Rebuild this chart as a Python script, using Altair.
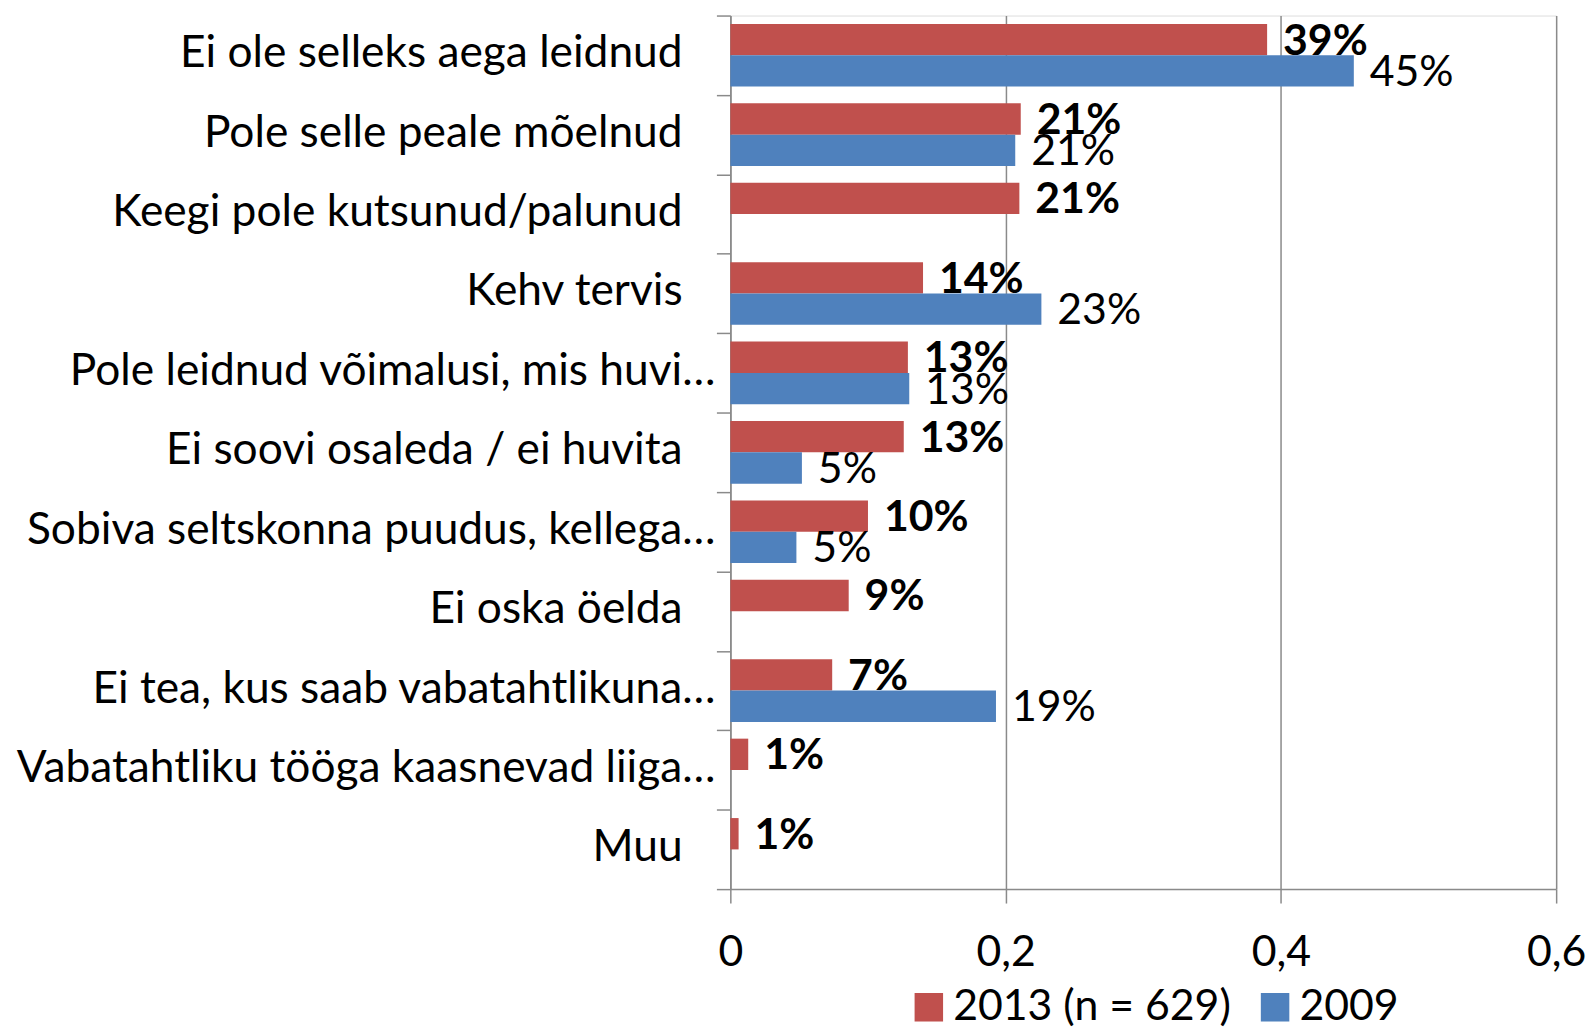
import altair as alt
import pandas as pd

categories = [
    "Ei ole selleks aega leidnud",
    "Pole selle peale mõelnud",
    "Keegi pole kutsunud/palunud",
    "Kehv tervis",
    "Pole leidnud võimalusi, mis huvi…",
    "Ei soovi osaleda / ei huvita",
    "Sobiva seltskonna puudus, kellega…",
    "Ei oska öelda",
    "Ei tea, kus saab vabatahtlikuna…",
    "Vabatahtliku tööga kaasnevad liiga…",
    "Muu",
]
values_2013 = [0.39, 0.211, 0.21, 0.14, 0.129, 0.126, 0.10, 0.086, 0.074, 0.013, 0.006]
values_2009 = [0.453, 0.207, None, 0.226, 0.13, 0.052, 0.048, None, 0.193, None, None]
series = ["2013 (n = 629)", "2009"]
colors = ["#C0504D", "#4F81BD"]

rows = []
for c, a, b in zip(categories, values_2013, values_2009):
    rows.append({"category": c, "series": series[0], "value": a})
    if b is not None:
        rows.append({"category": c, "series": series[1], "value": b})
df = pd.DataFrame(rows)
cat_df = pd.DataFrame({"category": categories})

FONT = "Lato"
FS = 43
CFS = 44.5
GRID = "#8a8a8a"

y_enc = alt.Y(
    "category:N",
    sort=categories,
    scale=alt.Scale(paddingInner=0, paddingOuter=0),
    axis=alt.Axis(
        title=None,
        tickBand="extent",
        tickSize=14,
        tickColor=GRID,
        tickWidth=1.5,
        domainColor=GRID,
        domainWidth=1.5,
        labels=False,
        grid=False,
    ),
)
yoff = alt.YOffset("series:N", sort=series, scale=alt.Scale(domain=series, paddingInner=0, paddingOuter=0.267))
x_enc = alt.X(
    "value:Q",
    scale=alt.Scale(domain=[0, 0.6], nice=False),
    axis=alt.Axis(
        title=None,
        values=[0, 0.2, 0.4, 0.6],
        labelExpr="datum.value == 0 ? '0' : replace(format(datum.value, '.1f'), '.', ',')",
        tickSize=14,
        tickColor=GRID,
        tickWidth=1.5,
        domainColor=GRID,
        domainWidth=1.5,
        grid=True,
        gridColor=GRID,
        gridWidth=1.5,
        labelFont=FONT,
        labelFontSize=FS,
        labelColor="#000000",
        labelPadding=29,
        labelFlush=False,
    ),
)

base = alt.Chart(df).encode(x=x_enc, y=y_enc, yOffset=yoff)

bars = base.mark_bar().encode(
    color=alt.Color(
        "series:N",
        scale=alt.Scale(domain=series, range=colors),
        legend=alt.Legend(
            title=None,
            orient="none",
            legendX=178,
            legendY=975,
            direction="horizontal",
            symbolType="square",
            symbolSize=820,
            symbolStrokeWidth=0,
            labelFont=FONT,
            labelFontSize=FS,
            labelColor="#000000",
            labelLimit=600,
            labelOffset=3,
            columnPadding=22,
            padding=0,
        ),
    ),
)

lab13 = base.transform_filter(alt.datum.series == series[0]).mark_text(
    align="left", baseline="middle", dx=16, dy=2, font=FONT, fontSize=FS, fontWeight="bold", color="#000000"
).encode(text=alt.Text("value:Q", format=".0%"))

lab09 = base.transform_filter(alt.datum.series == series[1]).mark_text(
    align="left", baseline="middle", dx=16, dy=2, font=FONT, fontSize=FS, color="#000000"
).encode(text=alt.Text("value:Q", format=".0%"))

cat_full = alt.Chart(cat_df).transform_filter("indexof(datum.category, '…') < 0").mark_text(
    align="right", baseline="middle", dy=-1, font=FONT, fontSize=CFS, color="#000000"
).encode(y=y_enc, x=alt.value(-48), text="category:N")

cat_trunc = alt.Chart(cat_df).transform_filter("indexof(datum.category, '…') >= 0").mark_text(
    align="right", baseline="middle", dy=-1, font=FONT, fontSize=CFS, color="#000000"
).encode(y=y_enc, x=alt.value(-15), text="category:N")

chart = alt.layer(bars, lab13, lab09, cat_full, cat_trunc).properties(
    width=830,
    height=878,
    autosize=alt.AutoSizeParams(type="none"),
    padding={"left": 726, "top": 5, "right": 30, "bottom": 136},
).configure_view(stroke=None).configure(background="white")

chart.save("out.html", embed_options={"renderer": "svg", "actions": False})
